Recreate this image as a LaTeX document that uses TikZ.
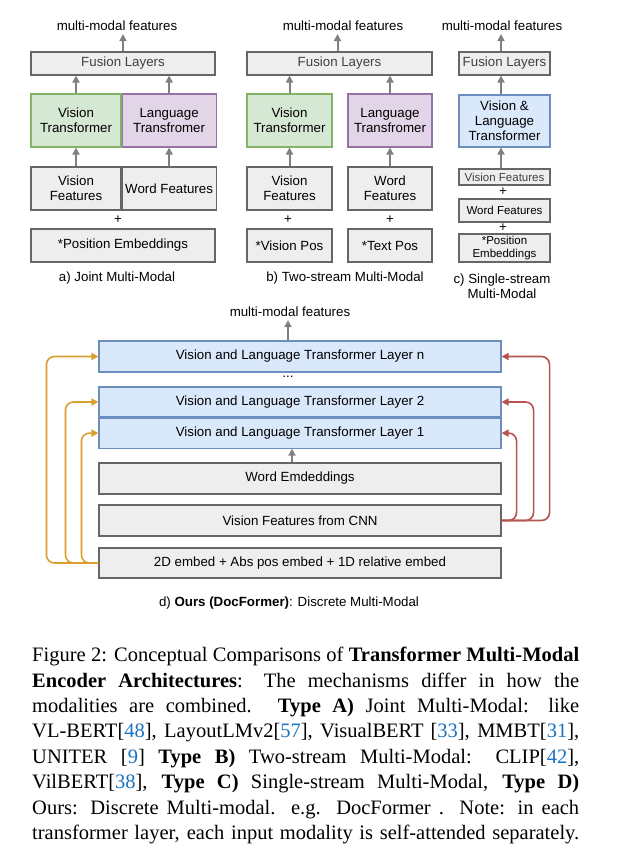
\documentclass[tikz,border=0pt]{standalone}
\usepackage{fontspec}
\setmainfont{Liberation Sans}
\newfontfamily\capfont{Liberation Serif}
\usetikzlibrary{arrows.meta, positioning}
\definecolor{boxfill}{HTML}{EEEEEE}
\definecolor{boxline}{HTML}{666666}
\definecolor{visfill}{HTML}{D5E8D4}
\definecolor{visline}{HTML}{82B366}
\definecolor{lanfill}{HTML}{E1D5E7}
\definecolor{lanline}{HTML}{9673A6}
\definecolor{trffill}{HTML}{DAE8FC}
\definecolor{trfline}{HTML}{6C8EBF}
\definecolor{arrgray}{HTML}{808080}
\definecolor{orline}{HTML}{D9A030}
\definecolor{rdline}{HTML}{B85450}
\definecolor{citeblue}{HTML}{1A73C0}
\newcommand{\cit}[1]{\textcolor{citeblue}{#1}}

\begin{document}
\begin{tikzpicture}[x=1pt, y=-1pt,
    >={Triangle[length=7pt, width=7pt]},
    every node/.style={font=\fontsize{13.3}{15}\selectfont},
    wh/.style 2 args={minimum width=#1pt, minimum height=#2pt},
    base/.style ={draw, line width=1.1pt, align=center, inner sep=1pt},
    gbox/.style ={base, draw=boxline, fill=boxfill},
    vbox/.style ={base, draw=visline, fill=visfill},
    lbox/.style ={base, draw=lanline, fill=lanfill},
    tbox/.style ={base, draw=trfline, fill=trffill},
    small/.style={font=\fontsize{11.5}{13}\selectfont},
    outtxt/.style={inner sep=3pt},
    flow/.style ={->, draw=arrgray, line width=2pt},
    oflow/.style={->, draw=orline, line width=1.6pt, rounded corners=8pt},
    rflow/.style={->, draw=rdline, line width=1.6pt, rounded corners=8pt},
]
\path[use as bounding box, fill=white] (0,0) rectangle (626,850);

% a) joint
\node[outtxt] (outA) at (117,26) {multi-modal features};
\node[gbox, wh={184}{23}, text=black!75] (fusA) at (123,63.5) {Fusion Layers};
\node[vbox, wh={90}{53}] (vtA) at (76,120.5) {Vision\\Transformer};
\node[lbox, wh={94}{53}, right=0pt of vtA] (ltA) {Language\\Transfromer};
\node[gbox, wh={90}{43}] (vfA) at (76,188.5) {Vision\\Features};
\node[gbox, wh={94}{43}, right=0pt of vfA] (wfA) {Word Features};
\node (plA) at (118,219.5) {+};
\node[gbox, wh={184}{33}] (peA) at (123,245.5) {*Position Embeddings};
\node (capA) at (117,278) {a) Joint Multi-Modal};
\draw[flow] (vfA) -- (vtA);
\draw[flow] (wfA) -- (ltA);
\draw[flow] (vtA.north) -- (vtA.north |- fusA.south);
\draw[flow] (ltA.north) -- (ltA.north |- fusA.south);
\draw[flow] (fusA.north) -- (fusA.north |- outA.south);

% b) two-stream
\node[outtxt] (outB) at (343,26) {multi-modal features};
\node[gbox, wh={185}{23}, text=black!75] (fusB) at (339.5,63.5) {Fusion Layers};
\node[vbox, wh={85}{53}] (vtB) at (289.5,120.5) {Vision\\Transformer};
\node[lbox, wh={84}{53}] (ltB) at (390,120.5) {Language\\Transfromer};
\node[gbox, wh={85}{43}] (vfB) at (289.5,188.5) {Vision\\Features};
\node[gbox, wh={84}{43}] (wfB) at (390,188.5) {Word\\Features};
\node (plB1) at (288,219.5) {+};
\node (plB2) at (390,219.5) {+};
\node[gbox, wh={85}{33}] (vpB) at (289.5,245.5) {*Vision Pos};
\node[gbox, wh={84}{33}] (tpB) at (390,245.5) {*Text Pos};
\node (capB) at (345,278) {b) Two-stream Multi-Modal};
\draw[flow] (vfB) -- (vtB);
\draw[flow] (wfB) -- (ltB);
\draw[flow] (vtB.north) -- (vtB.north |- fusB.south);
\draw[flow] (ltB.north) -- (ltB.north |- fusB.south);
\draw[flow] ([xshift=-2pt]fusB.north) -- ([xshift=-2pt]fusB.north |- outB.south);

% c) single-stream
\node[outtxt] (outC) at (502,26) {multi-modal features};
\node[gbox, wh={91}{23}, text=black!75] (fusC) at (504.5,63.5) {Fusion Layers};
\node[tbox, wh={91}{52}] (vltC) at (504.5,121) {Vision \&\\Language\\Transformer};
\node[gbox, small, wh={91}{16}, text=black!75] (vfC) at (504.5,177) {Vision Features};
\node (plC1) at (503,191.5) {+};
\node[gbox, small, wh={91}{23}] (wfC) at (504.5,210.5) {Word Features};
\node (plC2) at (503,227.5) {+};
\node[gbox, small, wh={91}{28}] (peC) at (504.5,248) {*Position\\Embeddings};
\node[align=center] (capC) at (502,286.5) {c) Single-stream\\Multi-Modal};
\draw[flow] ([xshift=-3.5pt]vfC.north) -- ([xshift=-3.5pt]vltC.south);
\draw[flow] ([xshift=-3.5pt]vltC.north) -- ([xshift=-3.5pt]fusC.south);
\draw[flow] ([xshift=-3.5pt]fusC.north) -- ([xshift=-3.5pt]fusC.north |- outC.south);

% d) ours
\node[outtxt] (outD) at (290,312) {multi-modal features};
\node[tbox, wh={402}{31}] (Ln) at (300,356.5) {Vision and Language Transformer Layer n};
\node (dots) at (288,377) {...};
\node[tbox, wh={402}{30}] (L2) at (300,402) {Vision and Language Transformer Layer 2};
\node[tbox, wh={402}{30}, below=0pt of L2] (L1) {Vision and Language Transformer Layer 1};
\node[gbox, wh={402}{31}] (weD) at (300,478.5) {Word Emdeddings};
\node[gbox, wh={402}{31}] (vfD) at (300,520.5) {Vision Features from CNN};
\node[gbox, wh={402}{30}] (peD) at (300,563) {2D embed + Abs pos embed + 1D relative embed};
\node (capD) at (289,603) {d) \textbf{Ours (DocFormer)}: Discrete Multi-Modal};
\draw[flow] ([xshift=-12pt]Ln.north) -- ([xshift=-12pt]Ln.north |- outD.south);
\draw[flow] ([xshift=-8pt]weD.north) -- ([xshift=-8pt]L1.south);
% position embeds go into every layer from the left, image features from the right
\draw[oflow] (peD.west) -- ++(-52,0) |- (Ln.west);
\draw[oflow] (peD.west) -- ++(-33,0) |- (L2.west);
\draw[oflow] (peD.west) -- ++(-17,0) |- (L1.west);
\draw[rflow] (vfD.east) -- ++(48,0) |- (Ln.east);
\draw[rflow] (vfD.east) -- ++(32,0) |- (L2.east);
\draw[rflow] (vfD.east) -- ++(15,0) |- (L1.east);

% figure caption
\node[anchor=north west, inner sep=0pt, text width=547pt, align=justify,
      font=\capfont\fontsize{20.5}{25.4}\selectfont] (cap) at (32,647)
{\hyphenpenalty=10000\parfillskip=0pt
Figure 2: Conceptual Comparisons of \textbf{Transformer Multi-Modal}\linebreak
\textbf{Encoder Architectures}: The mechanisms differ in how the\linebreak
modalities are combined. \textbf{Type A)} Joint Multi-Modal: like\linebreak
VL-BERT[\cit{48}], LayoutLMv2[\cit{57}], VisualBERT [\cit{33}], MMBT[\cit{31}],\linebreak
UNITER [\cit{9}] \textbf{Type B)} Two-stream Multi-Modal: CLIP[\cit{42}],\linebreak
VilBERT[\cit{38}], \textbf{Type C)} Single-stream Multi-Modal, \textbf{Type D)}\linebreak
Ours: Discrete Multi-modal. e.g. DocFormer . Note: in each\linebreak
transformer layer, each input modality is self-attended separately.\par};
\end{tikzpicture}
\end{document}
